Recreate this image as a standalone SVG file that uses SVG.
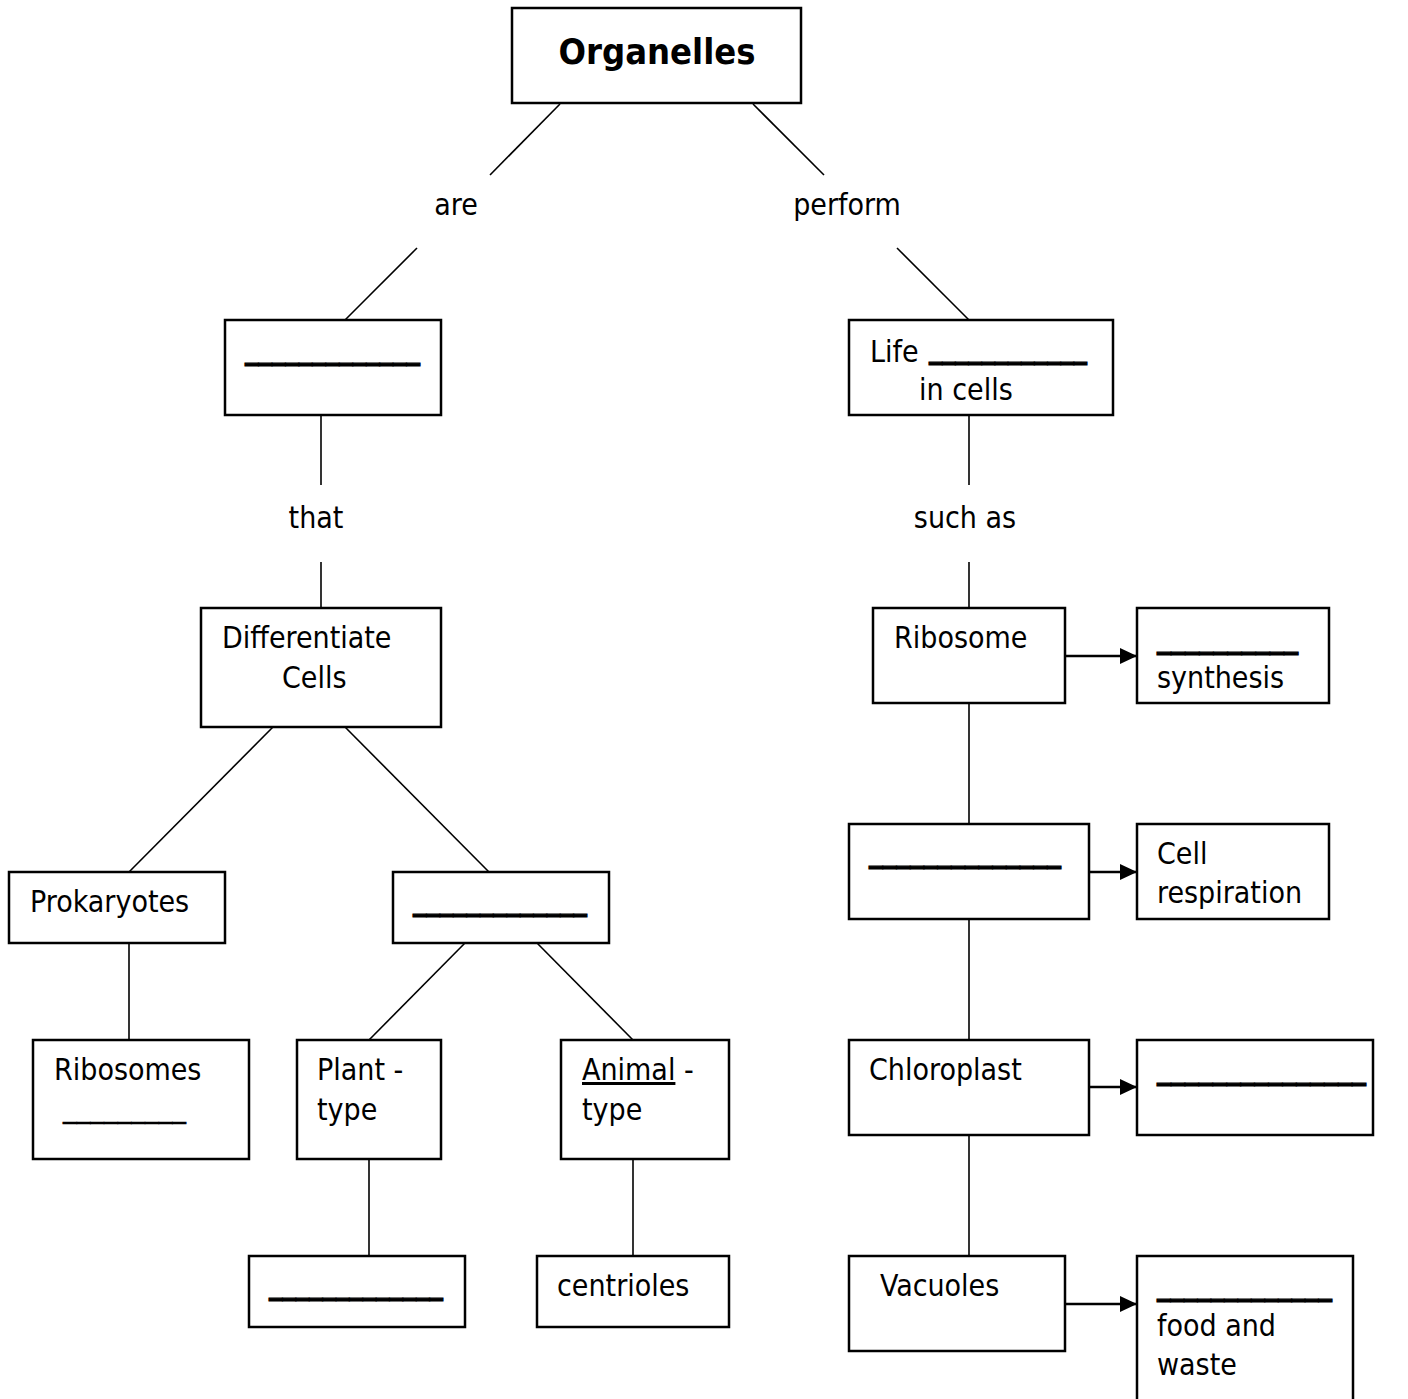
<svg xmlns="http://www.w3.org/2000/svg" width="1408" height="1399" viewBox="0 0 1408 1399">
  <style>
    .box { fill: #fff; stroke: #000; stroke-width: 2.5; }
    .wire { stroke: #000; stroke-width: 1.6; fill: none; }
    .arr { stroke: #000; stroke-width: 2.4; fill: none; marker-end: url(#head); }
    text { font-family: "DejaVu Sans Condensed", "DejaVu Sans", Tahoma, sans-serif; font-size: 30px; fill: #000; font-stretch: condensed; }
    .title { font-size: 36px; font-weight: bold; }
    .blank { font-weight: bold; stroke: #000; stroke-width: 1.2; }
    .thin { stroke: #000; stroke-width: 0.5; }
  </style>
  <defs>
    <marker id="head" markerUnits="userSpaceOnUse" markerWidth="18" markerHeight="16" refX="17" refY="8" orient="auto">
      <path d="M0,0 L17,8 L0,16 Z" fill="#000"/>
    </marker>
  </defs>
  <rect width="1408" height="1399" fill="#fff"/>

  <g id="connectors">
    <line class="wire" x1="560" y1="104" x2="490" y2="175"/>
    <line class="wire" x1="753" y1="104" x2="824" y2="175"/>
    <line class="wire" x1="417" y1="248" x2="345" y2="320"/>
    <line class="wire" x1="897" y1="248" x2="969" y2="320"/>
    <line class="wire" x1="321" y1="415" x2="321" y2="485"/>
    <line class="wire" x1="321" y1="562" x2="321" y2="608"/>
    <line class="wire" x1="969" y1="415" x2="969" y2="485"/>
    <line class="wire" x1="969" y1="562" x2="969" y2="608"/>
    <line class="wire" x1="273" y1="727" x2="129" y2="872"/>
    <line class="wire" x1="345" y1="727" x2="489" y2="872"/>
    <line class="wire" x1="129" y1="943" x2="129" y2="1040"/>
    <line class="wire" x1="465" y1="943" x2="369" y2="1040"/>
    <line class="wire" x1="537" y1="943" x2="633" y2="1040"/>
    <line class="wire" x1="369" y1="1159" x2="369" y2="1256"/>
    <line class="wire" x1="633" y1="1159" x2="633" y2="1256"/>
    <line class="wire" x1="969" y1="703" x2="969" y2="824"/>
    <line class="wire" x1="969" y1="919" x2="969" y2="1040"/>
    <line class="wire" x1="969" y1="1135" x2="969" y2="1256"/>
    <line class="arr" x1="1066" y1="656" x2="1137" y2="656"/>
    <line class="arr" x1="1090" y1="872" x2="1137" y2="872"/>
    <line class="arr" x1="1090" y1="1087" x2="1137" y2="1087"/>
    <line class="arr" x1="1066" y1="1304" x2="1137" y2="1304"/>
  </g>

  <g id="organelles">
    <rect class="box" x="512" y="8" width="289" height="95"/>
    <text class="title" x="657" y="64" text-anchor="middle">Organelles</text>
  </g>

  <g id="label-are"><text x="456" y="215" text-anchor="middle">are</text></g>
  <g id="label-perform"><text x="847" y="215" text-anchor="middle">perform</text></g>
  <g id="label-that"><text x="316" y="528" text-anchor="middle">that</text></g>
  <g id="label-such-as"><text x="965" y="528" text-anchor="middle">such as</text></g>

  <g id="structures">
    <rect class="box" x="225" y="320" width="216" height="95"/>
    <text class="blank" x="245" y="359" textLength="175" lengthAdjust="spacingAndGlyphs">_____________</text>
  </g>

  <g id="life-functions">
    <rect class="box" x="849" y="320" width="264" height="95"/>
    <text x="870" y="362">Life</text>
    <text class="blank" x="929" y="358" textLength="158" lengthAdjust="spacingAndGlyphs">____________</text>
    <text x="919" y="400">in cells</text>
  </g>

  <g id="differentiate-cells">
    <rect class="box" x="201" y="608" width="240" height="119"/>
    <text x="222" y="648">Differentiate</text>
    <text x="282" y="688">Cells</text>
  </g>

  <g id="prokaryotes">
    <rect class="box" x="9" y="872" width="216" height="71"/>
    <text x="30" y="912">Prokaryotes</text>
  </g>

  <g id="eukaryotes">
    <rect class="box" x="393" y="872" width="216" height="71"/>
    <text class="blank" x="413" y="910" textLength="174" lengthAdjust="spacingAndGlyphs">_____________</text>
  </g>

  <g id="ribosomes">
    <rect class="box" x="33" y="1040" width="216" height="119"/>
    <text x="54" y="1080">Ribosomes</text>
    <text class="thin" x="63" y="1117" textLength="123" lengthAdjust="spacingAndGlyphs">_________</text>
  </g>

  <g id="plant-type">
    <rect class="box" x="297" y="1040" width="144" height="119"/>
    <text x="317" y="1080">Plant -</text>
    <text x="317" y="1120">type</text>
  </g>

  <g id="animal-type">
    <rect class="box" x="561" y="1040" width="168" height="119"/>
    <text x="582" y="1080"><tspan text-decoration="underline">Animal</tspan> -</text>
    <text x="582" y="1120">type</text>
  </g>

  <g id="plant-organelle">
    <rect class="box" x="249" y="1256" width="216" height="71"/>
    <text class="blank" x="269" y="1294" textLength="174" lengthAdjust="spacingAndGlyphs">_____________</text>
  </g>

  <g id="centrioles">
    <rect class="box" x="537" y="1256" width="192" height="71"/>
    <text x="557" y="1296">centrioles</text>
  </g>

  <g id="ribosome">
    <rect class="box" x="873" y="608" width="192" height="95"/>
    <text x="894" y="648">Ribosome</text>
  </g>

  <g id="synthesis">
    <rect class="box" x="1137" y="608" width="192" height="95"/>
    <text class="blank" x="1157" y="648" textLength="141" lengthAdjust="spacingAndGlyphs">__________</text>
    <text x="1157" y="688">synthesis</text>
  </g>

  <g id="mitochondria">
    <rect class="box" x="849" y="824" width="240" height="95"/>
    <text class="blank" x="869" y="862" textLength="192" lengthAdjust="spacingAndGlyphs">______________</text>
  </g>

  <g id="cell-respiration">
    <rect class="box" x="1137" y="824" width="192" height="95"/>
    <text x="1157" y="864">Cell</text>
    <text x="1157" y="903">respiration</text>
  </g>

  <g id="chloroplast">
    <rect class="box" x="849" y="1040" width="240" height="95"/>
    <text x="869" y="1080">Chloroplast</text>
  </g>

  <g id="photosynthesis">
    <rect class="box" x="1137" y="1040" width="236" height="95"/>
    <text class="blank" x="1157" y="1079" textLength="209" lengthAdjust="spacingAndGlyphs">_______________</text>
  </g>

  <g id="vacuoles">
    <rect class="box" x="849" y="1256" width="216" height="95"/>
    <text x="880" y="1296">Vacuoles</text>
  </g>

  <g id="store">
    <rect class="box" x="1137" y="1256" width="216" height="150"/>
    <text class="blank" x="1157" y="1295" textLength="175" lengthAdjust="spacingAndGlyphs">_____________</text>
    <text x="1157" y="1336">food and</text>
    <text x="1157" y="1375">waste</text>
  </g>
</svg>
